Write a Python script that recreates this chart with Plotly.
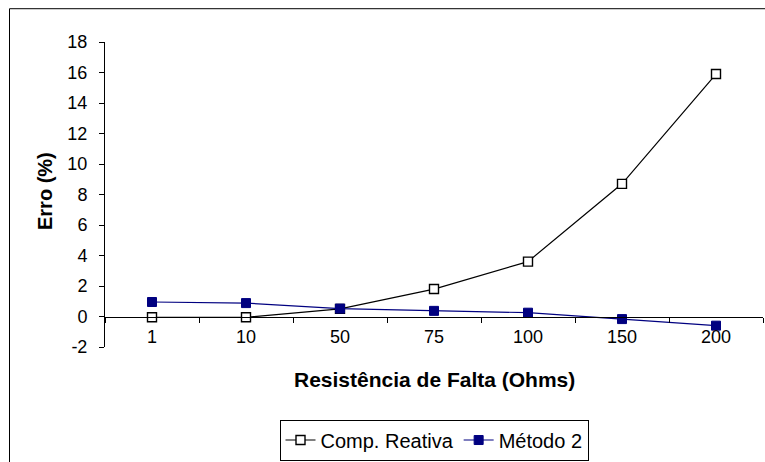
import plotly.graph_objects as go

# Fault resistance values (category labels) and the percentage error for each method
resistencia = ["1", "10", "50", "75", "100", "150", "200"]
comp_reativa = [-0.05, -0.05, 0.5, 1.8, 3.6, 8.7, 15.9]
metodo_2 = [0.95, 0.88, 0.52, 0.37, 0.25, -0.17, -0.6]

y_ticks = list(range(-2, 19, 2))
y_tick_labels = [str(v) for v in y_ticks]

W, H = 765, 462
L, R, T, B = 105, 2, 42, 113
PW, PH = W - L - R, H - T - B
font_family = "Arial, Liberation Sans, sans-serif"

fig = go.Figure()
fig.add_trace(go.Scatter(
    x=resistencia, y=comp_reativa, name="Comp. Reativa",
    mode="lines+markers",
    line=dict(color="black", width=1.2),
    marker=dict(symbol="square", size=9, color="white",
                line=dict(color="black", width=1.4)),
))
fig.add_trace(go.Scatter(
    x=resistencia, y=metodo_2, name="Método 2",
    mode="lines+markers",
    line=dict(color="#000080", width=1.2),
    marker=dict(symbol="square", size=9, color="#000080",
                line=dict(color="#000080", width=1)),
))

ymin, ymax = -2, 18
fig.update_layout(
    width=W, height=H,
    margin=dict(l=L, r=R, t=T, b=B),
    paper_bgcolor="white", plot_bgcolor="white",
    font=dict(family=font_family, size=18, color="black"),
    showlegend=True,
    legend=dict(
        orientation="h", x=0.5, xanchor="center",
        y=(H - B - 422) / PH, yanchor="top",
        bordercolor="black", borderwidth=1, bgcolor="white",
        font=dict(size=20), itemwidth=30, tracegroupgap=0,
    ),
    xaxis=dict(
        type="category", range=[-0.5, len(resistencia) - 0.5],
        anchor="free", position=(0 - ymin) / (ymax - ymin),
        showline=True, linecolor="black", linewidth=1,
        ticks="outside", tickson="boundaries", ticklen=5, tickcolor="black",
        showgrid=False, zeroline=False,
        tickfont=dict(size=18), ticklabelstandoff=4,
    ),
    yaxis=dict(
        range=[ymin, ymax], tickvals=y_ticks, ticktext=y_tick_labels,
        showline=True, linecolor="black", linewidth=1,
        ticks="outside", ticklen=5, tickcolor="black",
        showgrid=False, zeroline=False,
        tickfont=dict(size=18), ticklabelstandoff=8,
    ),
    annotations=[
        dict(text="<b>Erro (%)</b>", xref="paper", yref="paper",
             x=(45 - L) / PW, y=(H - B - 192) / PH,
             xanchor="center", yanchor="middle",
             textangle=-90, showarrow=False, font=dict(size=20)),
        dict(text="<b>Resistência de Falta (Ohms)</b>", xref="paper", yref="paper",
             x=0.5, y=(H - B - 382) / PH,
             xanchor="center", yanchor="middle",
             showarrow=False, font=dict(size=21)),
    ],
    shapes=[
        # outer chart frame
        dict(type="rect", xref="paper", yref="paper",
             x0=(9.5 - L) / PW, x1=1.2,
             y0=-0.6, y1=(H - B - 8.5) / PH,
             line=dict(color="black", width=1), layer="below"),
    ],
)

fig.write_html("out.html")
